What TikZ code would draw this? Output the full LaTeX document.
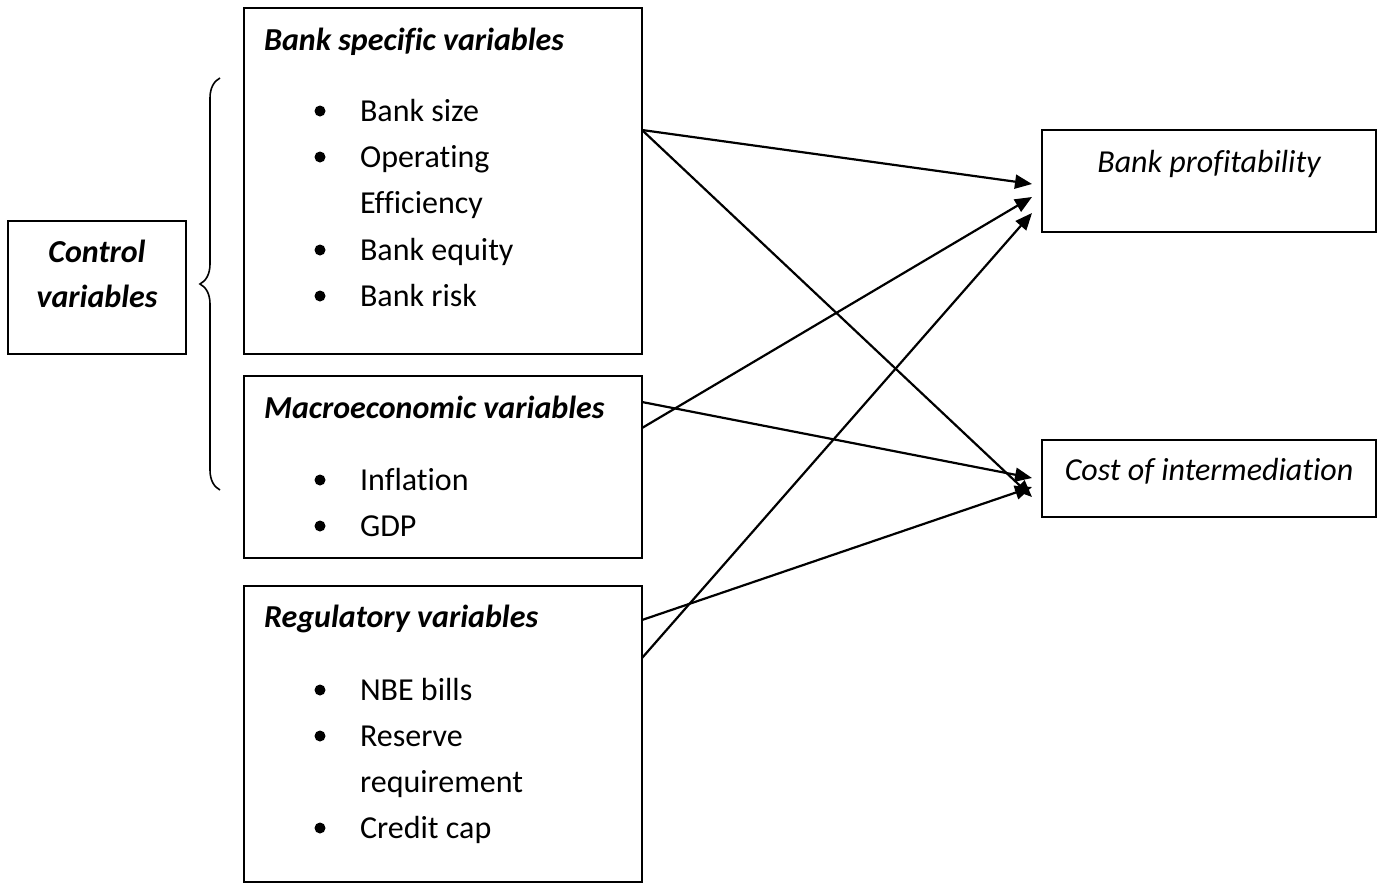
\documentclass[tikz,border=0pt]{standalone}
\usepackage{fontspec}
\setmainfont{Carlito}[Ligatures=CommonOff]
\usetikzlibrary{arrows.meta,decorations.pathreplacing}

\begin{document}
\begin{tikzpicture}[
    x=0.5pt,
    y=-0.5pt,
    font=\fontsize{16}{19}\selectfont,
    box/.style={line width=0.9pt},
    link/.style={line width=1.1pt,-{Triangle[length=8.5pt,width=7pt]}},
    head/.style={anchor=base west,font=\fontsize{16}{19}\selectfont\bfseries\itshape},
    item/.style={anchor=base west},
    dot/.style={circle,fill,inner sep=0pt,minimum size=5.5pt}
]

\useasboundingbox (0,0) rectangle (1381,884);

% -------------------------------------------------
% Boxes
% -------------------------------------------------

\draw[box] (8,221) rectangle (186,354);
\draw[box] (244,8) rectangle (642,354);
\draw[box] (244,376) rectangle (642,558);
\draw[box] (244,586) rectangle (642,882);
\draw[box] (1042,130) rectangle (1376,232);
\draw[box] (1042,440) rectangle (1376,517);

% -------------------------------------------------
% Brace
% -------------------------------------------------

\draw[line width=0.8pt,decorate,decoration={brace,amplitude=10pt}]
    (220,490) -- (220,78);

% -------------------------------------------------
% Texts
% -------------------------------------------------

\node[anchor=base,font=\fontsize{16}{19}\selectfont\bfseries\itshape] (ctrl1) at (97,262) {Control};
\node[anchor=base,font=\fontsize{16}{19}\selectfont\bfseries\itshape] (ctrl2) at (97,307) {variables};

\node[head] (bank) at (257,50) {Bank specific variables};
\node[head] (macro) at (257,418) {Macroeconomic variables};
\node[head] (reg) at (257,627) {Regulatory variables};

\node[anchor=base,font=\fontsize{16}{19}\selectfont\itshape] (prof) at (1209,172) {Bank profitability};
\node[anchor=base,font=\fontsize{16}{19}\selectfont\itshape] (cost) at (1209,480) {Cost of intermediation};

% bullet lists
\node[dot] (d1) at (320,111) {};
\node[item] (i1) at (353,121) {Bank size};
\node[dot] (d2) at (320,157) {};
\node[item] (i2) at (353,167) {Operating};
\node[item] (i3) at (353,213) {Efficiency};
\node[dot] (d4) at (320,250) {};
\node[item] (i4) at (353,260) {Bank equity};
\node[dot] (d5) at (320,296) {};
\node[item] (i5) at (353,306) {Bank risk};

\node[dot] (d6) at (320,480) {};
\node[item] (i6) at (353,490) {Inflation};
\node[dot] (d7) at (320,526) {};
\node[item] (i7) at (353,536) {GDP};

\node[dot] (d8) at (320,690) {};
\node[item] (i8) at (353,700) {NBE bills};
\node[dot] (d9) at (320,736) {};
\node[item] (i9) at (353,746) {Reserve};
\node[item] (i10) at (353,792) {requirement};
\node[dot] (d11) at (320,828) {};
\node[item] (i11) at (353,838) {Credit cap};

% -------------------------------------------------
% Arrow ends
% -------------------------------------------------

\coordinate (bankA) at (642,130);
\coordinate (macroA) at (642,402);
\coordinate (macroB) at (642,428);
\coordinate (regA) at (642,620);
\coordinate (regB) at (642,658);

\coordinate (profA) at (1032,184);
\coordinate (profB) at (1032,197);
\coordinate (profC) at (1032,213);
\coordinate (costA) at (1032,478);
\coordinate (costB) at (1032,487);
\coordinate (costC) at (1032,497);

\draw[link] (bankA) -- (profA);
\draw[link] (bankA) -- (costC);
\draw[link] (macroB) -- (profB);
\draw[link] (macroA) -- (costA);
\draw[link] (regA) -- (costB);
\draw[link] (regB) -- (profC);

\end{tikzpicture}
\end{document}
